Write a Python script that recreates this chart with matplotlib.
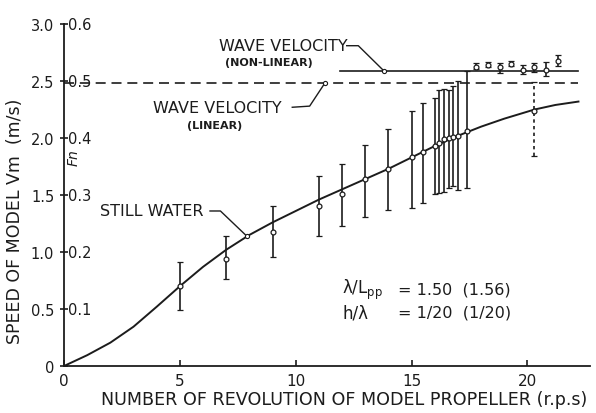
import numpy as np
import matplotlib.pyplot as plt

# still water run: model speed Vm (m/s) against propeller revolutions (r.p.s)
n_still = [0, 1, 2, 3, 4, 5, 6, 7, 8, 9, 10, 11, 12, 13, 14, 15, 16, 17, 18, 19, 20.3, 21.2, 22.2]
vm_still = [0, 0.095, 0.205, 0.345, 0.52, 0.70, 0.87, 1.02, 1.15, 1.26, 1.36, 1.46, 1.55, 1.64,
            1.73, 1.83, 1.93, 2.02, 2.10, 2.17, 2.25, 2.29, 2.32]

# runs in waves: mean speed with max / min during one encounter
n_wave = [5, 7, 9, 11, 12, 13, 14, 15, 15.5, 16, 16.2, 16.4, 16.6, 16.8, 17.0, 17.4]
vm_mean = [0.70, 0.94, 1.18, 1.40, 1.51, 1.64, 1.73, 1.83, 1.88, 1.93, 1.96, 1.99, 2.00, 2.01, 2.02, 2.06]
vm_max = [0.91, 1.14, 1.40, 1.67, 1.77, 1.94, 2.08, 2.24, 2.31, 2.35, 2.42, 2.43, 2.42, 2.46, 2.50, 2.59]
vm_min = [0.49, 0.76, 0.96, 1.14, 1.23, 1.31, 1.37, 1.39, 1.43, 1.51, 1.52, 1.53, 1.56, 1.58, 1.54, 1.56]

# surf-riding runs, model carried at wave speed
n_surf = [17.8, 18.3, 18.8, 19.3, 19.8, 20.3, 20.8, 21.3]
vm_surf = [2.62, 2.64, 2.62, 2.65, 2.60, 2.62, 2.60, 2.68]
vm_surf_max = [2.66, 2.67, 2.66, 2.68, 2.64, 2.66, 2.67, 2.73]
vm_surf_min = [2.61, 2.62, 2.57, 2.63, 2.56, 2.58, 2.54, 2.63]

# run at 20.3 r.p.s that did not lock on the wave
n_free = [20.3]
vm_free = [2.24]
vm_free_max = [2.49]
vm_free_min = [1.84]

# wave celerity
c_linear = 2.48
c_nonlinear = 2.59
n_nonlinear_start = 11.9
n_line_end = 22.2

vm_ticks = [0, 0.5, 1.0, 1.5, 2.0, 2.5, 3.0]
vm_labels = ['0', '0.5', '1.0', '1.5', '2.0', '2.5', '3.0']
fn_labels = ['0.1', '0.2', '0.3', '0.4', '0.5', '0.6']
n_ticks = [0, 5, 10, 15, 20]

ink = '#1c1c1c'

fig = plt.figure(figsize=(5.96, 4.14), dpi=100)
ax = fig.add_axes([0.1074, 0.1135, 0.8826, 0.826])
ax.set_xlim(0, 22.7)
ax.set_ylim(0, 3.0)
for s in ['top', 'right']:
    ax.spines[s].set_visible(False)
for s in ['left', 'bottom']:
    ax.spines[s].set_linewidth(1.3)
    ax.spines[s].set_color(ink)

ax.set_xticks(n_ticks)
ax.set_xticklabels([str(v) for v in n_ticks], fontsize=11, color=ink)
ax.set_yticks(vm_ticks)
ax.set_yticklabels(vm_labels, fontsize=10.5, color=ink)
ax.tick_params(axis='x', direction='in', length=4, width=1.2, pad=5, color=ink)
ax.tick_params(axis='y', direction='inout', length=6, width=1.2, pad=4, color=ink)

# Froude number scale written inside the axis
for vm, lab in zip(vm_ticks[1:], fn_labels):
    ax.annotate(lab, xy=(0, vm), xycoords=('axes fraction', 'data'), xytext=(3, 0),
                textcoords='offset points', va='center', ha='left',
                fontsize=10.5, color=ink)
ax.text(0.42, 1.84, 'Fn', rotation=90, va='center', ha='center', fontsize=10,
        style='italic', color=ink)

# wave velocity lines
ax.plot([0, n_line_end], [c_linear, c_linear], color=ink, lw=1.2, ls=(0, (6, 3.5)))
ax.plot([n_nonlinear_start, n_line_end], [c_nonlinear, c_nonlinear], color=ink, lw=1.2)

# still water curve
ax.plot(n_still, vm_still, color=ink, lw=1.4)

eb_kw = dict(fmt='o', ms=3.5, mfc='white', mec=ink, mew=0.9, ecolor=ink,
             elinewidth=1.2, capsize=2.5, capthick=1.1, color=ink)
ax.errorbar(n_wave, vm_mean,
            yerr=[np.subtract(vm_mean, vm_min), np.subtract(vm_max, vm_mean)], **eb_kw)
ax.errorbar(n_surf, vm_surf,
            yerr=[np.subtract(vm_surf, vm_surf_min), np.subtract(vm_surf_max, vm_surf)],
            **eb_kw)
free = ax.errorbar(n_free, vm_free,
                   yerr=[np.subtract(vm_free, vm_free_min), np.subtract(vm_free_max, vm_free)],
                   **eb_kw)
free[2][0].set_linestyle((0, (2, 2)))

# labels with leader lines
leader_kw = dict(color=ink, lw=1.0)
ax.text(6.7, 2.81, 'WAVE VELOCITY', fontsize=11.5, va='center', ha='left', color=ink)
ax.text(8.85, 2.67, '(NON-LINEAR)', fontsize=8, weight='bold', va='center', ha='center', color=ink)
ax.plot([12.2, 12.7, 13.8], [2.81, 2.81, c_nonlinear], **leader_kw)
ax.plot([13.8], [c_nonlinear], 'o', ms=3, mfc='white', mec=ink, mew=0.8)

ax.text(3.85, 2.27, 'WAVE VELOCITY', fontsize=11.5, va='center', ha='left', color=ink)
ax.text(6.5, 2.11, '(LINEAR)', fontsize=8, weight='bold', va='center', ha='center', color=ink)
ax.plot([9.85, 10.6, 11.25], [2.27, 2.28, c_linear], **leader_kw)
ax.plot([11.25], [c_linear], 'o', ms=3, mfc='white', mec=ink, mew=0.8)

ax.text(1.55, 1.36, 'STILL WATER', fontsize=11.5, va='center', ha='left', color=ink)
still_at = np.interp(7.9, n_still, vm_still)
ax.plot([6.3, 6.75, 7.9], [1.36, 1.36, still_at], **leader_kw)
ax.plot([7.9], [still_at], 'o', ms=3, mfc='white', mec=ink, mew=0.8)

# test conditions
ax.text(12.0, 0.675, 'λ/L$_{\\rm pp}$', fontsize=12, va='center', ha='left', color=ink)
ax.text(14.4, 0.675, '= 1.50  (1.56)', fontsize=11.5, va='center', ha='left', color=ink)
ax.text(12.0, 0.47, 'h/λ', fontsize=12, va='center', ha='left', color=ink)
ax.text(14.4, 0.47, '= 1/20  (1/20)', fontsize=11.5, va='center', ha='left', color=ink)

fig.text(0.577, 0.033, 'NUMBER OF REVOLUTION OF MODEL PROPELLER (r.p.s)', fontsize=12.6,
         ha='center', va='center', color=ink)
fig.text(0.026, 0.465, 'SPEED OF MODEL Vm  (m/s)', fontsize=12.5, rotation=90,
         ha='center', va='center', color=ink)

fig.savefig('out.png', dpi=100)
